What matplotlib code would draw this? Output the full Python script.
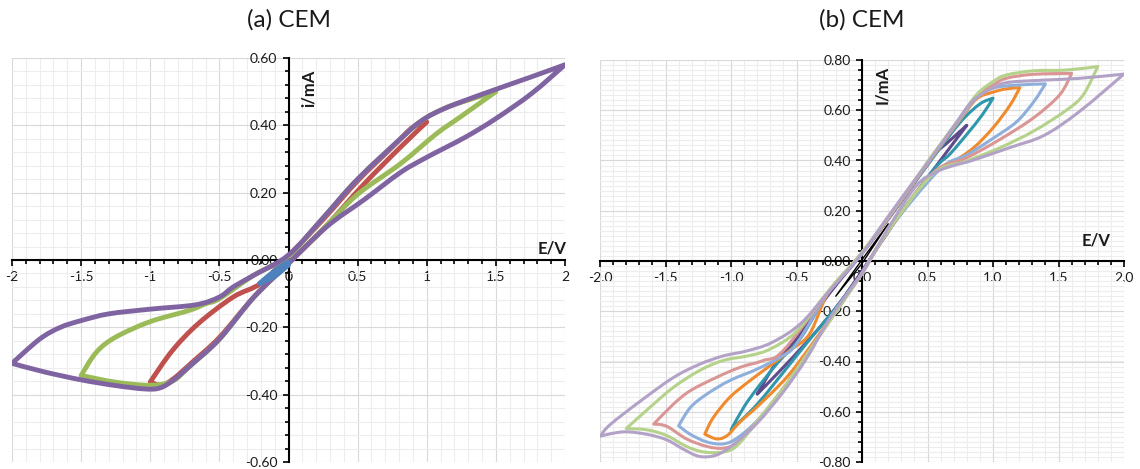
import numpy as np
import matplotlib
matplotlib.use("Agg")
import matplotlib.pyplot as plt
from matplotlib.path import Path
from matplotlib.patches import PathPatch
from matplotlib.ticker import MultipleLocator, FuncFormatter

plt.rcParams["font.family"] = ["Lato", "DejaVu Sans"]
plt.rcParams["axes.unicode_minus"] = False

W, H, DPI = 1140, 469, 100
TEXT_COLOR = "#1a1a1a"
GRID_MAJOR = "#D9D9D9"
GRID_MINOR = "#EDEDED"

# ---- (a) CEM: E/V and i/mA for each sweep window ----
a_blue_e = [0.0, -0.1, -0.21, -0.1, 0.0]
a_blue_i = [-0.005, -0.032, -0.07, -0.048, -0.015]

a_red_e = [0.0, 0.27, 0.545, 0.81, 1.0, 0.9, 0.75, 0.5, 0.25, 0.0, -0.2, -0.4,
           -0.65, -0.84, -1.0, -0.92, -0.83, -0.7, -0.5, -0.25, 0.0]
a_red_i = [-0.01, 0.10, 0.225, 0.335, 0.41, 0.395, 0.335, 0.235, 0.12, 0.012,
           -0.069, -0.11, -0.188, -0.269, -0.362, -0.372, -0.352, -0.305, -0.23,
           -0.11, -0.01]

a_green_e = [0.0, 0.27, 0.5, 0.81, 1.07, 1.25, 1.5, 1.2, 1.05, 0.95, 0.85, 0.5,
             0.25, 0.0, -0.25, -0.5, -0.6, -0.72, -1.0, -1.25, -1.39, -1.5,
             -1.25, -1.0, -0.84, -0.72, -0.5, -0.25, 0.0]
a_green_i = [-0.01, 0.10, 0.195, 0.286, 0.375, 0.427, 0.50, 0.462, 0.435, 0.41,
             0.375, 0.24, 0.125, 0.012, -0.045, -0.115, -0.13, -0.15, -0.183,
             -0.229, -0.274, -0.343, -0.363, -0.372, -0.36, -0.318, -0.235,
             -0.11, -0.01]

a_purple_e = [0.0, 0.28, 0.55, 0.81, 1.0, 1.28, 1.5, 1.76, 2.0, 1.75, 1.5, 1.2,
              1.05, 0.95, 0.85, 0.5, 0.25, 0.0, -0.25, -0.4, -0.5, -0.67, -1.0,
              -1.3, -1.5, -1.65, -1.8, -2.0, -1.77, -1.5, -1.25, -1.04, -0.93,
              -0.83, -0.7, -0.5, -0.25, 0.0]
a_purple_i = [-0.01, 0.10, 0.18, 0.26, 0.305, 0.365, 0.42, 0.495, 0.58, 0.543,
              0.507, 0.462, 0.435, 0.41, 0.375, 0.24, 0.125, 0.015, -0.045,
              -0.08, -0.11, -0.133, -0.146, -0.16, -0.18, -0.2, -0.235, -0.307,
              -0.332, -0.356, -0.373, -0.383, -0.38, -0.356, -0.31, -0.235,
              -0.11, -0.01]

# ---- (b) CEM ----
b_black_e = [0.0, 0.2, 0.0, -0.2, 0.0]
b_black_i = [-0.01, 0.148, 0.005, -0.14, -0.01]

b_dpurple_e = [0.0, 0.27, 0.54, 0.8, 0.65, 0.54, 0.29, 0.0, -0.25, -0.5, -0.65,
               -0.8, -0.65, -0.4, -0.19, 0.0]
b_dpurple_i = [-0.04, 0.17, 0.36, 0.54, 0.47, 0.415, 0.23, 0.03, -0.13, -0.31,
               -0.40, -0.53, -0.45, -0.31, -0.18, -0.04]

b_teal_e = [0.0, 0.2, 0.54, 0.67, 0.8, 0.92, 1.0, 0.9, 0.75, 0.54, 0.29, 0.0,
            -0.25, -0.465, -0.63, -0.79, -0.9, -1.0, -0.8, -0.55, -0.38, -0.19, 0.0]
b_teal_i = [-0.05, 0.12, 0.359, 0.425, 0.504, 0.583, 0.648, 0.625, 0.552, 0.41,
            0.232, 0.03, -0.12, -0.304, -0.397, -0.50, -0.58, -0.672, -0.57,
            -0.41, -0.30, -0.18, -0.05]

b_orange_e = [0.0, 0.2, 0.54, 0.67, 0.85, 1.0, 1.13, 1.205, 1.1, 1.0, 0.874,
              0.746, 0.54, 0.29, 0.0, -0.25, -0.4, -0.55, -0.7, -0.855, -1.01,
              -1.135, -1.2, -1.11, -1.03, -0.93, -0.79, -0.57, -0.38, -0.19, 0.0]
b_orange_i = [-0.05, 0.12, 0.345, 0.385, 0.45, 0.53, 0.62, 0.69, 0.685, 0.672,
              0.645, 0.56, 0.415, 0.235, 0.03, -0.12, -0.29, -0.356, -0.416,
              -0.476, -0.543, -0.623, -0.689, -0.708, -0.695, -0.64, -0.575,
              -0.46, -0.33, -0.19, -0.05]

b_lblue_e = [0.0, 0.2, 0.59, 0.8, 1.0, 1.18, 1.31, 1.4, 1.18, 1.0, 0.874, 0.746,
             0.54, 0.29, 0.0, -0.25, -0.5, -0.626, -0.8, -1.01, -1.185, -1.31,
             -1.4, -1.31, -1.185, -1.06, -0.954, -0.79, -0.57, -0.38, -0.19, 0.0]
b_lblue_i = [-0.05, 0.12, 0.363, 0.422, 0.488, 0.554, 0.633, 0.705, 0.70, 0.688,
             0.65, 0.562, 0.418, 0.235, 0.03, -0.12, -0.33, -0.383, -0.43, -0.476,
             -0.53, -0.583, -0.656, -0.69, -0.72, -0.728, -0.705, -0.63, -0.485,
             -0.34, -0.195, -0.05]

b_pink_e = [0.0, 0.2, 0.54, 0.8, 1.05, 1.31, 1.51, 1.6, 1.306, 1.1, 1.0, 0.874,
            0.746, 0.54, 0.29, 0.0, -0.25, -0.6, -0.753, -0.93, -1.11, -1.31,
            -1.44, -1.59, -1.49, -1.34, -1.185, -1.06, -0.954, -0.79, -0.57,
            -0.38, -0.19, 0.0]
b_pink_i = [-0.05, 0.12, 0.35, 0.411, 0.483, 0.57, 0.662, 0.747, 0.743, 0.727,
            0.70, 0.655, 0.565, 0.42, 0.235, 0.033, -0.12, -0.356, -0.396,
            -0.423, -0.463, -0.516, -0.57, -0.649, -0.658, -0.708, -0.738,
            -0.745, -0.722, -0.632, -0.485, -0.34, -0.195, -0.05]

b_green_e = [0.0, 0.2, 0.54, 0.8, 1.05, 1.31, 1.56, 1.69, 1.8, 1.56, 1.31, 1.1,
             1.0, 0.874, 0.746, 0.54, 0.29, 0.0, -0.25, -0.5, -0.7, -0.855,
             -1.06, -1.24, -1.44, -1.62, -1.8, -1.64, -1.49, -1.34, -1.21, -1.06,
             -0.954, -0.79, -0.57, -0.38, -0.19, 0.0]
b_green_i = [-0.05, 0.12, 0.345, 0.398, 0.45, 0.517, 0.60, 0.662, 0.774, 0.76,
             0.757, 0.74, 0.714, 0.662, 0.569, 0.424, 0.24, 0.035, -0.115, -0.28,
             -0.35, -0.376, -0.396, -0.436, -0.503, -0.583, -0.667, -0.672,
             -0.695, -0.738, -0.76, -0.76, -0.735, -0.632, -0.485, -0.34, -0.195,
             -0.05]

b_lpurple_e = [0.0, 0.2, 0.415, 0.57, 0.7, 0.84, 1.12, 1.39, 1.66, 2.0, 1.66,
               1.39, 1.12, 1.0, 0.84, 0.72, 0.57, 0.4, 0.19, 0.0, -0.25, -0.47,
               -0.69, -0.88, -1.06, -1.24, -1.44, -1.69, -1.92, -2.0, -1.82,
               -1.64, -1.49, -1.36, -1.24, -1.11, -0.98, -0.8, -0.6, -0.42,
               -0.244, 0.0]
b_lpurple_i = [-0.05, 0.13, 0.30, 0.355, 0.38, 0.40, 0.45, 0.50, 0.595, 0.744,
               0.727, 0.72, 0.711, 0.69, 0.635, 0.55, 0.44, 0.32, 0.17, 0.03,
               -0.12, -0.25, -0.325, -0.358, -0.378, -0.411, -0.464, -0.557,
               -0.65, -0.697, -0.68, -0.69, -0.712, -0.75, -0.778, -0.772, -0.73,
               -0.645, -0.52, -0.385, -0.226, -0.05]

# drawing order: first listed is drawn underneath
A_SERIES = [
    (a_red_e, a_red_i, "#C0504D"),
    (a_green_e, a_green_i, "#9BBB59"),
    (a_purple_e, a_purple_i, "#8064A2"),
    (a_blue_e, a_blue_i, "#4F81BD"),
]

B_SERIES = [
    (b_dpurple_e, b_dpurple_i, "#5F4A8B"),
    (b_teal_e, b_teal_i, "#2F97AD"),
    (b_orange_e, b_orange_i, "#F08A2C"),
    (b_lblue_e, b_lblue_i, "#8EAEDB"),
    (b_pink_e, b_pink_i, "#D99694"),
    (b_green_e, b_green_i, "#B5D28A"),
    (b_lpurple_e, b_lpurple_i, "#B3A2C7"),
]


def smooth_path(e, i):
    """Smoothed line through the points (like Excel's smoothed line),
    kept sharp at the sweep turning points."""
    pts = np.column_stack([e, i])
    turns = sorted({0, int(np.argmax(e)), int(np.argmin(e)), len(e) - 1})
    verts, codes = [pts[0]], [Path.MOVETO]
    for s, t in zip(turns[:-1], turns[1:]):
        seg = pts[s:t + 1]
        ext = np.vstack([seg[0], seg, seg[-1]])
        for k in range(1, len(ext) - 2):
            p0, p1, p2, p3 = ext[k - 1], ext[k], ext[k + 1], ext[k + 2]
            verts += [p1 + (p2 - p0) / 6, p2 - (p3 - p1) / 6, p2]
            codes += [Path.CURVE4] * 3
    return Path(verts, codes)


def draw_loop(ax, e, i, color, lw, z=3):
    ax.add_patch(PathPatch(smooth_path(e, i), fill=False, edgecolor=color,
                           linewidth=lw, joinstyle="round", capstyle="round",
                           zorder=z))


def style_axes(ax, ylim, xfmt, fine_hgrid=False):
    ax.set_xlim(-2, 2)
    ax.set_ylim(-ylim, ylim)
    for side in ("top", "right"):
        ax.spines[side].set_visible(False)
    for side in ("left", "bottom"):
        ax.spines[side].set_position(("data", 0))
        ax.spines[side].set_linewidth(1.5)
        ax.spines[side].set_color("black")

    ax.xaxis.set_major_locator(MultipleLocator(0.5))
    ax.xaxis.set_minor_locator(MultipleLocator(0.1))
    ax.yaxis.set_major_locator(MultipleLocator(0.2))
    ax.yaxis.set_minor_locator(MultipleLocator(0.04))
    ax.xaxis.set_major_formatter(FuncFormatter(xfmt))
    ax.yaxis.set_major_formatter(FuncFormatter(lambda v, p: f"{v:.2f}"))

    ax.grid(which="major", color=GRID_MAJOR, linewidth=0.8)
    ax.grid(which="minor", color=GRID_MINOR, linewidth=0.8)
    if fine_hgrid:
        for y in np.arange(-ylim, ylim + 1e-9, 0.02):
            ax.axhline(y, color=GRID_MINOR, linewidth=0.8, zorder=0.5)
    ax.set_axisbelow(True)

    ax.tick_params(which="both", direction="out", color="black", width=1.2,
                   labelsize=10, labelcolor=TEXT_COLOR)
    ax.tick_params(which="major", length=4.5, pad=3.5)
    ax.tick_params(which="minor", length=3)


fig = plt.figure(figsize=(W / DPI, H / DPI), dpi=DPI)
fig.patch.set_facecolor("white")

ax_a = fig.add_axes([12 / W, 7 / H, 553 / W, 404 / H])
ax_b = fig.add_axes([600 / W, 7 / H, 524 / W, 402 / H])

style_axes(ax_a, 0.6, lambda v, p: f"{v:g}")
style_axes(ax_b, 0.8, lambda v, p: f"{v:.1f}", fine_hgrid=True)

for e, i, c in A_SERIES:
    draw_loop(ax_a, e, i, c, 3.5)

for e, i, c in B_SERIES:
    draw_loop(ax_b, e, i, c, 2.2)
ax_b.plot(b_black_e, b_black_i, color="black", linewidth=1.0, zorder=4)

ax_a.text(0.15, 0.51, "i/mA", rotation=90, ha="center", va="center",
          fontsize=12, fontweight="bold", color=TEXT_COLOR)
ax_a.text(1.91, 0.035, "E/V", ha="center", va="center",
          fontsize=12, fontweight="bold", color=TEXT_COLOR)
ax_b.text(0.153, 0.70, "I/mA", rotation=90, ha="center", va="center",
          fontsize=12, fontweight="bold", color=TEXT_COLOR)
ax_b.text(1.79, 0.08, "E/V", ha="center", va="center",
          fontsize=12, fontweight="bold", color=TEXT_COLOR)

fig.text(289 / W, 1 - 20 / H, "(a) CEM", ha="center", va="center",
         fontsize=17.5, color=TEXT_COLOR)
fig.text(862 / W, 1 - 20 / H, "(b) CEM", ha="center", va="center",
         fontsize=17.5, color=TEXT_COLOR)

fig.savefig("out.png", dpi=DPI, facecolor="white")
plt.close(fig)
